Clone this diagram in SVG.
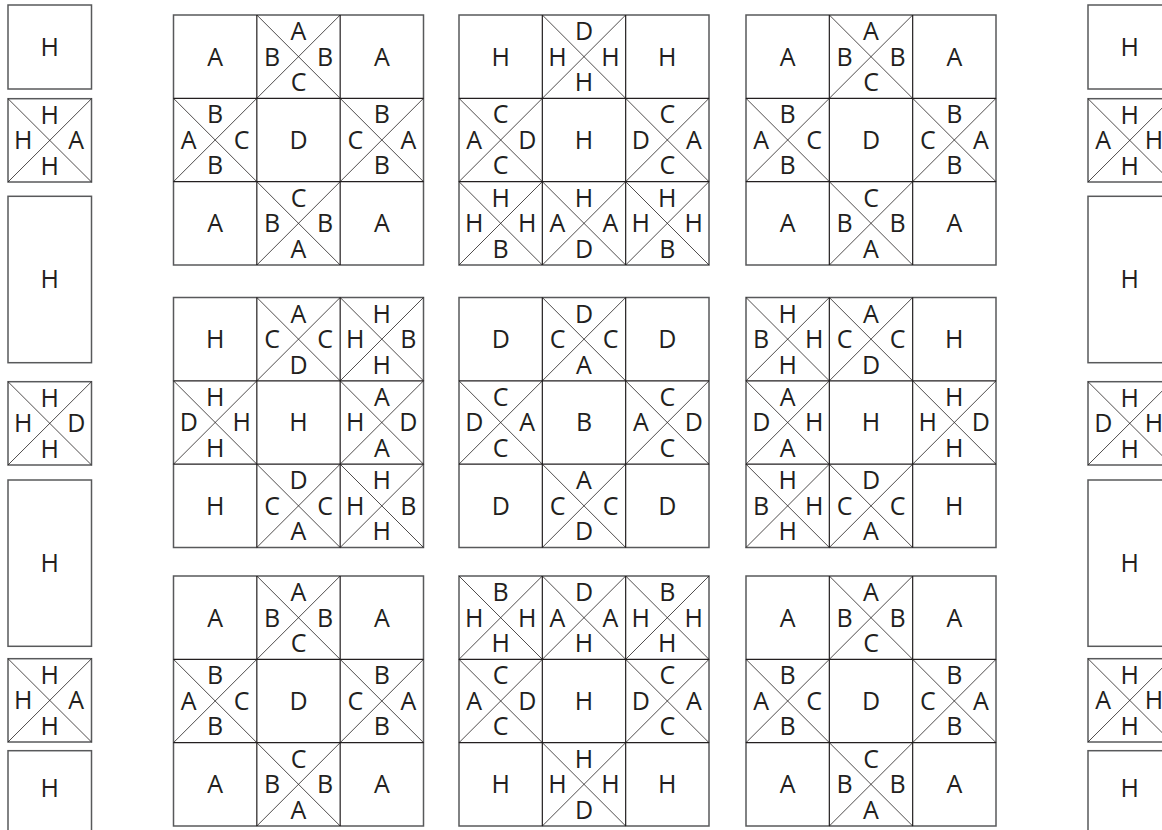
<svg xmlns="http://www.w3.org/2000/svg" xmlns:xlink="http://www.w3.org/1999/xlink" width="1162" height="830" viewBox="0 0 1162 830">
<style>
.t{font-family:"Open Sans","Liberation Sans",sans-serif;font-size:25px;fill:#231f20;text-anchor:middle}
.o{fill:#fff;stroke:#58595b;stroke-width:1.5}
.g{fill:none;stroke:#231f20;stroke-width:1.2}
.d{fill:none;stroke:#231f20;stroke-width:0.8}
</style>
<defs>
<path id="x" class="d" d="M0,0L83.33,83.33M83.33,0L0,83.33"/>
<path id="xs" class="d" d="M0,0L83.5,83.3M83.5,0L0,83.3"/>
<path id="grid" class="g" d="M83.33,0V250M166.67,0V250M0,83.33H250M0,166.67H250"/>
</defs>
<rect width="1162" height="830" fill="#fff"/>

<!-- left column -->
<g id="left1" transform="translate(8,5)"><rect class="o" width="83.5" height="84"/><text class="t" x="41.75" y="51">H</text></g>
<g id="left2" transform="translate(8,98.7)"><rect class="o" width="83.5" height="83.3"/><use href="#xs"/>
<text class="t" x="41.75" y="25">H</text><text class="t" x="68.2" y="50.5">A</text><text class="t" x="41.75" y="76">H</text><text class="t" x="15.2" y="50.5">H</text></g>
<g id="left3" transform="translate(8,196.3)"><rect class="o" width="83.5" height="166.4"/><text class="t" x="41.75" y="92">H</text></g>
<g id="left4" transform="translate(8,381.7)"><rect class="o" width="83.5" height="83.3"/><use href="#xs"/>
<text class="t" x="41.75" y="25">H</text><text class="t" x="68.2" y="50.5">D</text><text class="t" x="41.75" y="76">H</text><text class="t" x="15.2" y="50.5">H</text></g>
<g id="left5" transform="translate(8,480)"><rect class="o" width="83.5" height="166.3"/><text class="t" x="41.75" y="92">H</text></g>
<g id="left6" transform="translate(8,658.7)"><rect class="o" width="83.5" height="83.3"/><use href="#xs"/>
<text class="t" x="41.75" y="25">H</text><text class="t" x="68.2" y="50.5">A</text><text class="t" x="41.75" y="76">H</text><text class="t" x="15.2" y="50.5">H</text></g>
<g id="left7" transform="translate(8,750.7)"><rect class="o" width="83.5" height="90"/><text class="t" x="41.75" y="46">H</text></g>

<!-- right column -->
<g id="right1" transform="translate(1088,5)"><rect class="o" width="83.5" height="84"/><text class="t" x="41.75" y="51">H</text></g>
<g id="right2" transform="translate(1088,98.7)"><rect class="o" width="83.5" height="83.3"/><use href="#xs"/>
<text class="t" x="41.75" y="25">H</text><text class="t" x="66" y="50.5">H</text><text class="t" x="41.75" y="76">H</text><text class="t" x="15.2" y="50.5">A</text></g>
<g id="right3" transform="translate(1088,196.3)"><rect class="o" width="83.5" height="166.4"/><text class="t" x="41.75" y="92">H</text></g>
<g id="right4" transform="translate(1088,381.7)"><rect class="o" width="83.5" height="83.3"/><use href="#xs"/>
<text class="t" x="41.75" y="25">H</text><text class="t" x="66" y="50.5">H</text><text class="t" x="41.75" y="76">H</text><text class="t" x="15.2" y="50.5">D</text></g>
<g id="right5" transform="translate(1088,480)"><rect class="o" width="83.5" height="166.3"/><text class="t" x="41.75" y="92">H</text></g>
<g id="right6" transform="translate(1088,658.7)"><rect class="o" width="83.5" height="83.3"/><use href="#xs"/>
<text class="t" x="41.75" y="25">H</text><text class="t" x="66" y="50.5">H</text><text class="t" x="41.75" y="76">H</text><text class="t" x="15.2" y="50.5">A</text></g>
<g id="right7" transform="translate(1088,750.7)"><rect class="o" width="83.5" height="90"/><text class="t" x="41.75" y="46">H</text></g>

<!-- block row1 col1 -->
<g id="block11" transform="translate(173.5,15)">
<rect class="o" width="250" height="250"/><use href="#grid"/>
<use href="#x" x="83.33" y="0"/><use href="#x" x="0" y="83.33"/><use href="#x" x="166.67" y="83.33"/><use href="#x" x="83.33" y="166.67"/>
<text class="t" x="41.7" y="50.5">A</text>
<text class="t" x="125" y="25">A</text><text class="t" x="151.5" y="50.5">B</text><text class="t" x="125" y="76">C</text><text class="t" x="98.5" y="50.5">B</text>
<text class="t" x="208.3" y="50.5">A</text>
<text class="t" x="41.7" y="108.3">B</text><text class="t" x="68.2" y="133.8">C</text><text class="t" x="41.7" y="159.3">B</text><text class="t" x="15.2" y="133.8">A</text>
<text class="t" x="125" y="133.8">D</text>
<text class="t" x="208.3" y="108.3">B</text><text class="t" x="234.8" y="133.8">A</text><text class="t" x="208.3" y="159.3">B</text><text class="t" x="181.8" y="133.8">C</text>
<text class="t" x="41.7" y="217.1">A</text>
<text class="t" x="125" y="191.6">C</text><text class="t" x="151.5" y="217.1">B</text><text class="t" x="125" y="242.6">A</text><text class="t" x="98.5" y="217.1">B</text>
<text class="t" x="208.3" y="217.1">A</text>
</g>

<!-- block row1 col2 -->
<g id="block12" transform="translate(459,15)">
<rect class="o" width="250" height="250"/><use href="#grid"/>
<use href="#x" x="83.33" y="0"/><use href="#x" x="0" y="83.33"/><use href="#x" x="166.67" y="83.33"/><use href="#x" x="0" y="166.67"/><use href="#x" x="83.33" y="166.67"/><use href="#x" x="166.67" y="166.67"/>
<text class="t" x="41.7" y="50.5">H</text>
<text class="t" x="125" y="25">D</text><text class="t" x="151.5" y="50.5">H</text><text class="t" x="125" y="76">H</text><text class="t" x="98.5" y="50.5">H</text>
<text class="t" x="208.3" y="50.5">H</text>
<text class="t" x="41.7" y="108.3">C</text><text class="t" x="68.2" y="133.8">D</text><text class="t" x="41.7" y="159.3">C</text><text class="t" x="15.2" y="133.8">A</text>
<text class="t" x="125" y="133.8">H</text>
<text class="t" x="208.3" y="108.3">C</text><text class="t" x="234.8" y="133.8">A</text><text class="t" x="208.3" y="159.3">C</text><text class="t" x="181.8" y="133.8">D</text>
<text class="t" x="41.7" y="191.6">H</text><text class="t" x="68.2" y="217.1">H</text><text class="t" x="41.7" y="242.6">B</text><text class="t" x="15.2" y="217.1">H</text>
<text class="t" x="125" y="191.6">H</text><text class="t" x="151.5" y="217.1">A</text><text class="t" x="125" y="242.6">D</text><text class="t" x="98.5" y="217.1">A</text>
<text class="t" x="208.3" y="191.6">H</text><text class="t" x="234.8" y="217.1">H</text><text class="t" x="208.3" y="242.6">B</text><text class="t" x="181.8" y="217.1">H</text>
</g>

<!-- block row1 col3 -->
<g id="block13" transform="translate(746,15)">
<rect class="o" width="250" height="250"/><use href="#grid"/>
<use href="#x" x="83.33" y="0"/><use href="#x" x="0" y="83.33"/><use href="#x" x="166.67" y="83.33"/><use href="#x" x="83.33" y="166.67"/>
<text class="t" x="41.7" y="50.5">A</text>
<text class="t" x="125" y="25">A</text><text class="t" x="151.5" y="50.5">B</text><text class="t" x="125" y="76">C</text><text class="t" x="98.5" y="50.5">B</text>
<text class="t" x="208.3" y="50.5">A</text>
<text class="t" x="41.7" y="108.3">B</text><text class="t" x="68.2" y="133.8">C</text><text class="t" x="41.7" y="159.3">B</text><text class="t" x="15.2" y="133.8">A</text>
<text class="t" x="125" y="133.8">D</text>
<text class="t" x="208.3" y="108.3">B</text><text class="t" x="234.8" y="133.8">A</text><text class="t" x="208.3" y="159.3">B</text><text class="t" x="181.8" y="133.8">C</text>
<text class="t" x="41.7" y="217.1">A</text>
<text class="t" x="125" y="191.6">C</text><text class="t" x="151.5" y="217.1">B</text><text class="t" x="125" y="242.6">A</text><text class="t" x="98.5" y="217.1">B</text>
<text class="t" x="208.3" y="217.1">A</text>
</g>

<!-- block row2 col1 -->
<g id="block21" transform="translate(173.5,297.5)">
<rect class="o" width="250" height="250"/><use href="#grid"/>
<use href="#x" x="83.33" y="0"/><use href="#x" x="166.67" y="0"/><use href="#x" x="0" y="83.33"/><use href="#x" x="166.67" y="83.33"/><use href="#x" x="83.33" y="166.67"/><use href="#x" x="166.67" y="166.67"/>
<text class="t" x="41.7" y="50.5">H</text>
<text class="t" x="125" y="25">A</text><text class="t" x="151.5" y="50.5">C</text><text class="t" x="125" y="76">D</text><text class="t" x="98.5" y="50.5">C</text>
<text class="t" x="208.3" y="25">H</text><text class="t" x="234.8" y="50.5">B</text><text class="t" x="208.3" y="76">H</text><text class="t" x="181.8" y="50.5">H</text>
<text class="t" x="41.7" y="108.3">H</text><text class="t" x="68.2" y="133.8">H</text><text class="t" x="41.7" y="159.3">H</text><text class="t" x="15.2" y="133.8">D</text>
<text class="t" x="125" y="133.8">H</text>
<text class="t" x="208.3" y="108.3">A</text><text class="t" x="234.8" y="133.8">D</text><text class="t" x="208.3" y="159.3">A</text><text class="t" x="181.8" y="133.8">H</text>
<text class="t" x="41.7" y="217.1">H</text>
<text class="t" x="125" y="191.6">D</text><text class="t" x="151.5" y="217.1">C</text><text class="t" x="125" y="242.6">A</text><text class="t" x="98.5" y="217.1">C</text>
<text class="t" x="208.3" y="191.6">H</text><text class="t" x="234.8" y="217.1">B</text><text class="t" x="208.3" y="242.6">H</text><text class="t" x="181.8" y="217.1">H</text>
</g>

<!-- block row2 col2 -->
<g id="block22" transform="translate(459,297.5)">
<rect class="o" width="250" height="250"/><use href="#grid"/>
<use href="#x" x="83.33" y="0"/><use href="#x" x="0" y="83.33"/><use href="#x" x="166.67" y="83.33"/><use href="#x" x="83.33" y="166.67"/>
<text class="t" x="41.7" y="50.5">D</text>
<text class="t" x="125" y="25">D</text><text class="t" x="151.5" y="50.5">C</text><text class="t" x="125" y="76">A</text><text class="t" x="98.5" y="50.5">C</text>
<text class="t" x="208.3" y="50.5">D</text>
<text class="t" x="41.7" y="108.3">C</text><text class="t" x="68.2" y="133.8">A</text><text class="t" x="41.7" y="159.3">C</text><text class="t" x="15.2" y="133.8">D</text>
<text class="t" x="125" y="133.8">B</text>
<text class="t" x="208.3" y="108.3">C</text><text class="t" x="234.8" y="133.8">D</text><text class="t" x="208.3" y="159.3">C</text><text class="t" x="181.8" y="133.8">A</text>
<text class="t" x="41.7" y="217.1">D</text>
<text class="t" x="125" y="191.6">A</text><text class="t" x="151.5" y="217.1">C</text><text class="t" x="125" y="242.6">D</text><text class="t" x="98.5" y="217.1">C</text>
<text class="t" x="208.3" y="217.1">D</text>
</g>

<!-- block row2 col3 -->
<g id="block23" transform="translate(746,297.5)">
<rect class="o" width="250" height="250"/><use href="#grid"/>
<use href="#x" x="0" y="0"/><use href="#x" x="83.33" y="0"/><use href="#x" x="0" y="83.33"/><use href="#x" x="166.67" y="83.33"/><use href="#x" x="0" y="166.67"/><use href="#x" x="83.33" y="166.67"/>
<text class="t" x="41.7" y="25">H</text><text class="t" x="68.2" y="50.5">H</text><text class="t" x="41.7" y="76">H</text><text class="t" x="15.2" y="50.5">B</text>
<text class="t" x="125" y="25">A</text><text class="t" x="151.5" y="50.5">C</text><text class="t" x="125" y="76">D</text><text class="t" x="98.5" y="50.5">C</text>
<text class="t" x="208.3" y="50.5">H</text>
<text class="t" x="41.7" y="108.3">A</text><text class="t" x="68.2" y="133.8">H</text><text class="t" x="41.7" y="159.3">A</text><text class="t" x="15.2" y="133.8">D</text>
<text class="t" x="125" y="133.8">H</text>
<text class="t" x="208.3" y="108.3">H</text><text class="t" x="234.8" y="133.8">D</text><text class="t" x="208.3" y="159.3">H</text><text class="t" x="181.8" y="133.8">H</text>
<text class="t" x="41.7" y="191.6">H</text><text class="t" x="68.2" y="217.1">H</text><text class="t" x="41.7" y="242.6">H</text><text class="t" x="15.2" y="217.1">B</text>
<text class="t" x="125" y="191.6">D</text><text class="t" x="151.5" y="217.1">C</text><text class="t" x="125" y="242.6">A</text><text class="t" x="98.5" y="217.1">C</text>
<text class="t" x="208.3" y="217.1">H</text>
</g>

<!-- block row3 col1 -->
<g id="block31" transform="translate(173.5,576)">
<rect class="o" width="250" height="250"/><use href="#grid"/>
<use href="#x" x="83.33" y="0"/><use href="#x" x="0" y="83.33"/><use href="#x" x="166.67" y="83.33"/><use href="#x" x="83.33" y="166.67"/>
<text class="t" x="41.7" y="50.5">A</text>
<text class="t" x="125" y="25">A</text><text class="t" x="151.5" y="50.5">B</text><text class="t" x="125" y="76">C</text><text class="t" x="98.5" y="50.5">B</text>
<text class="t" x="208.3" y="50.5">A</text>
<text class="t" x="41.7" y="108.3">B</text><text class="t" x="68.2" y="133.8">C</text><text class="t" x="41.7" y="159.3">B</text><text class="t" x="15.2" y="133.8">A</text>
<text class="t" x="125" y="133.8">D</text>
<text class="t" x="208.3" y="108.3">B</text><text class="t" x="234.8" y="133.8">A</text><text class="t" x="208.3" y="159.3">B</text><text class="t" x="181.8" y="133.8">C</text>
<text class="t" x="41.7" y="217.1">A</text>
<text class="t" x="125" y="191.6">C</text><text class="t" x="151.5" y="217.1">B</text><text class="t" x="125" y="242.6">A</text><text class="t" x="98.5" y="217.1">B</text>
<text class="t" x="208.3" y="217.1">A</text>
</g>

<!-- block row3 col2 -->
<g id="block32" transform="translate(459,576)">
<rect class="o" width="250" height="250"/><use href="#grid"/>
<use href="#x" x="0" y="0"/><use href="#x" x="83.33" y="0"/><use href="#x" x="166.67" y="0"/><use href="#x" x="0" y="83.33"/><use href="#x" x="166.67" y="83.33"/><use href="#x" x="83.33" y="166.67"/>
<text class="t" x="41.7" y="25">B</text><text class="t" x="68.2" y="50.5">H</text><text class="t" x="41.7" y="76">H</text><text class="t" x="15.2" y="50.5">H</text>
<text class="t" x="125" y="25">D</text><text class="t" x="151.5" y="50.5">A</text><text class="t" x="125" y="76">H</text><text class="t" x="98.5" y="50.5">A</text>
<text class="t" x="208.3" y="25">B</text><text class="t" x="234.8" y="50.5">H</text><text class="t" x="208.3" y="76">H</text><text class="t" x="181.8" y="50.5">H</text>
<text class="t" x="41.7" y="108.3">C</text><text class="t" x="68.2" y="133.8">D</text><text class="t" x="41.7" y="159.3">C</text><text class="t" x="15.2" y="133.8">A</text>
<text class="t" x="125" y="133.8">H</text>
<text class="t" x="208.3" y="108.3">C</text><text class="t" x="234.8" y="133.8">A</text><text class="t" x="208.3" y="159.3">C</text><text class="t" x="181.8" y="133.8">D</text>
<text class="t" x="41.7" y="217.1">H</text>
<text class="t" x="125" y="191.6">H</text><text class="t" x="151.5" y="217.1">H</text><text class="t" x="125" y="242.6">D</text><text class="t" x="98.5" y="217.1">H</text>
<text class="t" x="208.3" y="217.1">H</text>
</g>

<!-- block row3 col3 -->
<g id="block33" transform="translate(746,576)">
<rect class="o" width="250" height="250"/><use href="#grid"/>
<use href="#x" x="83.33" y="0"/><use href="#x" x="0" y="83.33"/><use href="#x" x="166.67" y="83.33"/><use href="#x" x="83.33" y="166.67"/>
<text class="t" x="41.7" y="50.5">A</text>
<text class="t" x="125" y="25">A</text><text class="t" x="151.5" y="50.5">B</text><text class="t" x="125" y="76">C</text><text class="t" x="98.5" y="50.5">B</text>
<text class="t" x="208.3" y="50.5">A</text>
<text class="t" x="41.7" y="108.3">B</text><text class="t" x="68.2" y="133.8">C</text><text class="t" x="41.7" y="159.3">B</text><text class="t" x="15.2" y="133.8">A</text>
<text class="t" x="125" y="133.8">D</text>
<text class="t" x="208.3" y="108.3">B</text><text class="t" x="234.8" y="133.8">A</text><text class="t" x="208.3" y="159.3">B</text><text class="t" x="181.8" y="133.8">C</text>
<text class="t" x="41.7" y="217.1">A</text>
<text class="t" x="125" y="191.6">C</text><text class="t" x="151.5" y="217.1">B</text><text class="t" x="125" y="242.6">A</text><text class="t" x="98.5" y="217.1">B</text>
<text class="t" x="208.3" y="217.1">A</text>
</g>
</svg>
